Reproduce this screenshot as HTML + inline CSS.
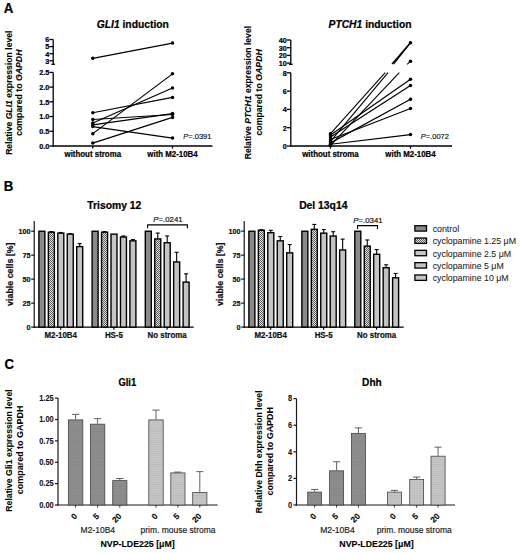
<!DOCTYPE html>
<html><head><meta charset="utf-8"><style>
html,body{margin:0;padding:0;background:#fff;}
body{width:520px;height:553px;overflow:hidden;}
svg{display:block;font-family:"Liberation Sans",sans-serif;}
</style></head><body>
<svg width="520" height="553" viewBox="0 0 520 553">
<defs>
<pattern id="chk" width="2" height="2" patternUnits="userSpaceOnUse">
<rect width="2" height="2" fill="#e4e4e4"/><rect width="1" height="1" fill="#5a5a5a"/><rect x="1" y="1" width="1" height="1" fill="#5a5a5a"/>
</pattern>
<pattern id="hd" width="4" height="2.2" patternUnits="userSpaceOnUse">
<rect width="4" height="2.2" fill="#8e8e8e"/><rect width="4" height="0.6" fill="#848484"/>
</pattern>
<pattern id="hl" width="4" height="2.2" patternUnits="userSpaceOnUse">
<rect width="4" height="2.2" fill="#c6c6c6"/><rect width="4" height="0.6" fill="#b8b8b8"/>
</pattern>
</defs>
<rect width="520" height="553" fill="#fff"/>
<text transform="translate(3.8,12.7) scale(0.93,1)" font-size="14.2" font-weight="bold" text-anchor="start" fill="#000"  stroke="#000" stroke-width="0.22">A</text>
<text x="132.8" y="27.6" font-size="10.3" font-weight="bold" text-anchor="middle" fill="#000"  stroke="#000" stroke-width="0.22"><tspan font-style="italic">GLI1</tspan> induction</text>
<text transform="translate(11.5,92.7) rotate(-90) scale(1.006,1)" x="0" y="0" font-size="8.6" font-weight="bold" text-anchor="middle" fill="#000" stroke="#000" stroke-width="0.08">Relative <tspan font-style="italic">GLI1</tspan> expression level</text>
<text transform="translate(22.4,92.7) rotate(-90) scale(1.016,1)" x="0" y="0" font-size="8.6" font-weight="bold" text-anchor="middle" fill="#000" stroke="#000" stroke-width="0.08">compared to <tspan font-style="italic">GAPDH</tspan></text>
<line x1="53.2" y1="72.4" x2="53.2" y2="146.65" stroke="#000" stroke-width="1.3" />
<line x1="49.4" y1="146" x2="53.2" y2="146" stroke="#000" stroke-width="1.3" />
<text transform="translate(49.3,148.8) scale(0.92,1)" font-size="7.9" font-weight="bold" text-anchor="end" fill="#000"  stroke="#000" stroke-width="0.22">0.0</text>
<line x1="49.4" y1="131.28" x2="53.2" y2="131.28" stroke="#000" stroke-width="1.3" />
<text transform="translate(49.3,134.08) scale(0.92,1)" font-size="7.9" font-weight="bold" text-anchor="end" fill="#000"  stroke="#000" stroke-width="0.22">0.5</text>
<line x1="49.4" y1="116.56" x2="53.2" y2="116.56" stroke="#000" stroke-width="1.3" />
<text transform="translate(49.3,119.36) scale(0.92,1)" font-size="7.9" font-weight="bold" text-anchor="end" fill="#000"  stroke="#000" stroke-width="0.22">1.0</text>
<line x1="49.4" y1="101.84" x2="53.2" y2="101.84" stroke="#000" stroke-width="1.3" />
<text transform="translate(49.3,104.64) scale(0.92,1)" font-size="7.9" font-weight="bold" text-anchor="end" fill="#000"  stroke="#000" stroke-width="0.22">1.5</text>
<line x1="49.4" y1="87.12" x2="53.2" y2="87.12" stroke="#000" stroke-width="1.3" />
<text transform="translate(49.3,89.92) scale(0.92,1)" font-size="7.9" font-weight="bold" text-anchor="end" fill="#000"  stroke="#000" stroke-width="0.22">2.0</text>
<line x1="49.4" y1="72.4" x2="53.2" y2="72.4" stroke="#000" stroke-width="1.3" />
<text transform="translate(49.3,75.2) scale(0.92,1)" font-size="7.9" font-weight="bold" text-anchor="end" fill="#000"  stroke="#000" stroke-width="0.22">2.5</text>
<line x1="53.2" y1="39.5" x2="53.2" y2="64.3" stroke="#000" stroke-width="1.3" />
<line x1="51.4" y1="64.3" x2="55" y2="64.3" stroke="#000" stroke-width="1.3" />
<line x1="49.4" y1="60.8" x2="53.2" y2="60.8" stroke="#000" stroke-width="1.3" />
<text transform="translate(49.3,63.6) scale(0.92,1)" font-size="7.9" font-weight="bold" text-anchor="end" fill="#000"  stroke="#000" stroke-width="0.22">3</text>
<line x1="49.4" y1="53.7" x2="53.2" y2="53.7" stroke="#000" stroke-width="1.3" />
<text transform="translate(49.3,56.5) scale(0.92,1)" font-size="7.9" font-weight="bold" text-anchor="end" fill="#000"  stroke="#000" stroke-width="0.22">4</text>
<line x1="49.4" y1="46.6" x2="53.2" y2="46.6" stroke="#000" stroke-width="1.3" />
<text transform="translate(49.3,49.4) scale(0.92,1)" font-size="7.9" font-weight="bold" text-anchor="end" fill="#000"  stroke="#000" stroke-width="0.22">5</text>
<line x1="49.4" y1="39.5" x2="53.2" y2="39.5" stroke="#000" stroke-width="1.3" />
<text transform="translate(49.3,42.3) scale(0.92,1)" font-size="7.9" font-weight="bold" text-anchor="end" fill="#000"  stroke="#000" stroke-width="0.22">6</text>
<line x1="52.55" y1="146" x2="212.5" y2="146" stroke="#000" stroke-width="1.3" />
<line x1="92.8" y1="146" x2="92.8" y2="148.6" stroke="#000" stroke-width="1.3" />
<line x1="172.5" y1="146" x2="172.5" y2="148.6" stroke="#000" stroke-width="1.3" />
<text transform="translate(92.8,157.2) scale(0.93,1)" font-size="8.5" font-weight="bold" text-anchor="middle" fill="#000"  stroke="#000" stroke-width="0.22">without stroma</text>
<text transform="translate(172.5,157.2) scale(0.93,1)" font-size="8.5" font-weight="bold" text-anchor="middle" fill="#000"  stroke="#000" stroke-width="0.22">with M2-10B4</text>
<text transform="translate(211.4,138.9) scale(0.95,1)" font-size="7.9" font-weight="normal" text-anchor="end" fill="#111"  stroke="#111" stroke-width="0.18"><tspan font-style="italic">P</tspan>=.0391</text>
<line x1="92.8" y1="58.31" x2="172.5" y2="43.05" stroke="#000" stroke-width="1.2" />
<line x1="92.8" y1="112.73" x2="172.5" y2="97.42" stroke="#000" stroke-width="1.2" />
<line x1="92.8" y1="119.5" x2="172.5" y2="114.5" stroke="#000" stroke-width="1.2" />
<line x1="92.8" y1="123.04" x2="172.5" y2="88" stroke="#000" stroke-width="1.2" />
<line x1="92.8" y1="124.8" x2="172.5" y2="113.62" stroke="#000" stroke-width="1.2" />
<line x1="92.8" y1="126.57" x2="172.5" y2="138.05" stroke="#000" stroke-width="1.2" />
<line x1="92.8" y1="133.64" x2="172.5" y2="73.87" stroke="#000" stroke-width="1.2" />
<line x1="92.8" y1="143.06" x2="172.5" y2="117.44" stroke="#000" stroke-width="1.2" />
<circle cx="92.8" cy="58.31" r="1.75" fill="#000"/>
<circle cx="172.5" cy="43.05" r="1.75" fill="#000"/>
<circle cx="92.8" cy="112.73" r="1.75" fill="#000"/>
<circle cx="172.5" cy="97.42" r="1.75" fill="#000"/>
<circle cx="92.8" cy="119.5" r="1.75" fill="#000"/>
<circle cx="172.5" cy="114.5" r="1.75" fill="#000"/>
<circle cx="92.8" cy="123.04" r="1.75" fill="#000"/>
<circle cx="172.5" cy="88" r="1.75" fill="#000"/>
<circle cx="92.8" cy="124.8" r="1.75" fill="#000"/>
<circle cx="172.5" cy="113.62" r="1.75" fill="#000"/>
<circle cx="92.8" cy="126.57" r="1.75" fill="#000"/>
<circle cx="172.5" cy="138.05" r="1.75" fill="#000"/>
<circle cx="92.8" cy="133.64" r="1.75" fill="#000"/>
<circle cx="172.5" cy="73.87" r="1.75" fill="#000"/>
<circle cx="92.8" cy="143.06" r="1.75" fill="#000"/>
<circle cx="172.5" cy="117.44" r="1.75" fill="#000"/>
<text x="370" y="27.7" font-size="10.3" font-weight="bold" text-anchor="middle" fill="#000"  stroke="#000" stroke-width="0.22"><tspan font-style="italic">PTCH1</tspan> induction</text>
<text transform="translate(251,92.6) rotate(-90) scale(1.006,1)" x="0" y="0" font-size="8.6" font-weight="bold" text-anchor="middle" fill="#000" stroke="#000" stroke-width="0.08">Relative <tspan font-style="italic">PTCH1</tspan> expression level</text>
<text transform="translate(261.9,92.4) rotate(-90) scale(1.016,1)" x="0" y="0" font-size="8.6" font-weight="bold" text-anchor="middle" fill="#000" stroke="#000" stroke-width="0.08">compared to <tspan font-style="italic">GAPDH</tspan></text>
<line x1="290.8" y1="72.8" x2="290.8" y2="146.65" stroke="#000" stroke-width="1.3" />
<line x1="287" y1="146" x2="290.8" y2="146" stroke="#000" stroke-width="1.3" />
<text transform="translate(286.9,148.8) scale(0.92,1)" font-size="7.9" font-weight="bold" text-anchor="end" fill="#000"  stroke="#000" stroke-width="0.22">0</text>
<line x1="287" y1="127.7" x2="290.8" y2="127.7" stroke="#000" stroke-width="1.3" />
<text transform="translate(286.9,130.5) scale(0.92,1)" font-size="7.9" font-weight="bold" text-anchor="end" fill="#000"  stroke="#000" stroke-width="0.22">2</text>
<line x1="287" y1="109.4" x2="290.8" y2="109.4" stroke="#000" stroke-width="1.3" />
<text transform="translate(286.9,112.2) scale(0.92,1)" font-size="7.9" font-weight="bold" text-anchor="end" fill="#000"  stroke="#000" stroke-width="0.22">4</text>
<line x1="287" y1="91.1" x2="290.8" y2="91.1" stroke="#000" stroke-width="1.3" />
<text transform="translate(286.9,93.9) scale(0.92,1)" font-size="7.9" font-weight="bold" text-anchor="end" fill="#000"  stroke="#000" stroke-width="0.22">6</text>
<line x1="287" y1="72.8" x2="290.8" y2="72.8" stroke="#000" stroke-width="1.3" />
<text transform="translate(286.9,75.6) scale(0.92,1)" font-size="7.9" font-weight="bold" text-anchor="end" fill="#000"  stroke="#000" stroke-width="0.22">8</text>
<line x1="290.8" y1="40" x2="290.8" y2="64.3" stroke="#000" stroke-width="1.3" />
<line x1="289" y1="64.3" x2="292.6" y2="64.3" stroke="#000" stroke-width="1.3" />
<line x1="287" y1="63.1" x2="290.8" y2="63.1" stroke="#000" stroke-width="1.3" />
<text transform="translate(286.9,65.9) scale(0.92,1)" font-size="7.9" font-weight="bold" text-anchor="end" fill="#000"  stroke="#000" stroke-width="0.22">10</text>
<line x1="287" y1="55.4" x2="290.8" y2="55.4" stroke="#000" stroke-width="1.3" />
<text transform="translate(286.9,58.2) scale(0.92,1)" font-size="7.9" font-weight="bold" text-anchor="end" fill="#000"  stroke="#000" stroke-width="0.22">20</text>
<line x1="287" y1="47.7" x2="290.8" y2="47.7" stroke="#000" stroke-width="1.3" />
<text transform="translate(286.9,50.5) scale(0.92,1)" font-size="7.9" font-weight="bold" text-anchor="end" fill="#000"  stroke="#000" stroke-width="0.22">30</text>
<line x1="287" y1="40" x2="290.8" y2="40" stroke="#000" stroke-width="1.3" />
<text transform="translate(286.9,42.8) scale(0.92,1)" font-size="7.9" font-weight="bold" text-anchor="end" fill="#000"  stroke="#000" stroke-width="0.22">40</text>
<line x1="290.15" y1="146" x2="452" y2="146" stroke="#000" stroke-width="1.3" />
<line x1="330.5" y1="146" x2="330.5" y2="148.6" stroke="#000" stroke-width="1.3" />
<line x1="410.5" y1="146" x2="410.5" y2="148.6" stroke="#000" stroke-width="1.3" />
<text transform="translate(330.5,157.2) scale(0.93,1)" font-size="8.5" font-weight="bold" text-anchor="middle" fill="#000"  stroke="#000" stroke-width="0.22">without stroma</text>
<text transform="translate(410.5,157.2) scale(0.93,1)" font-size="8.5" font-weight="bold" text-anchor="middle" fill="#000"  stroke="#000" stroke-width="0.22">with M2-10B4</text>
<text transform="translate(448.9,139.4) scale(0.95,1)" font-size="7.9" font-weight="normal" text-anchor="end" fill="#111"  stroke="#111" stroke-width="0.18"><tspan font-style="italic">P</tspan>=.0072</text>
<line x1="330.5" y1="135.02" x2="410.5" y2="79.2" stroke="#000" stroke-width="1.2" />
<line x1="330.5" y1="137.12" x2="410.5" y2="85.61" stroke="#000" stroke-width="1.2" />
<line x1="330.5" y1="142.89" x2="410.5" y2="99.34" stroke="#000" stroke-width="1.2" />
<line x1="330.5" y1="139.5" x2="410.5" y2="108.48" stroke="#000" stroke-width="1.2" />
<line x1="330.5" y1="144.26" x2="410.5" y2="134.56" stroke="#000" stroke-width="1.2" />
<line x1="330.5" y1="133.65" x2="385.2" y2="72.6" stroke="#000" stroke-width="1.1" />
<line x1="330.5" y1="141.43" x2="388" y2="72.6" stroke="#000" stroke-width="1.1" />
<line x1="330.5" y1="145.27" x2="399.3" y2="72.6" stroke="#000" stroke-width="1.1" />
<line x1="392" y1="64" x2="410.5" y2="42.7" stroke="#000" stroke-width="1.3" />
<line x1="393.6" y1="64.2" x2="410.5" y2="42.7" stroke="#000" stroke-width="1.2" />
<line x1="407.2" y1="64.3" x2="410.5" y2="61.2" stroke="#000" stroke-width="1.1" />
<circle cx="330.5" cy="135.02" r="1.75" fill="#000"/>
<circle cx="410.5" cy="79.2" r="1.75" fill="#000"/>
<circle cx="330.5" cy="137.12" r="1.75" fill="#000"/>
<circle cx="410.5" cy="85.61" r="1.75" fill="#000"/>
<circle cx="330.5" cy="142.89" r="1.75" fill="#000"/>
<circle cx="410.5" cy="99.34" r="1.75" fill="#000"/>
<circle cx="330.5" cy="139.5" r="1.75" fill="#000"/>
<circle cx="410.5" cy="108.48" r="1.75" fill="#000"/>
<circle cx="330.5" cy="144.26" r="1.75" fill="#000"/>
<circle cx="410.5" cy="134.56" r="1.75" fill="#000"/>
<circle cx="330.5" cy="133.65" r="1.75" fill="#000"/>
<circle cx="330.5" cy="141.43" r="1.75" fill="#000"/>
<circle cx="330.5" cy="145.27" r="1.75" fill="#000"/>
<circle cx="410.5" cy="42.7" r="1.75" fill="#000"/>
<circle cx="410.5" cy="61.2" r="1.75" fill="#000"/>
<text transform="translate(3.8,190.6) scale(0.93,1)" font-size="14.2" font-weight="bold" text-anchor="start" fill="#000"  stroke="#000" stroke-width="0.22">B</text>
<text x="114.3" y="208.8" font-size="10.35" font-weight="bold" text-anchor="middle" fill="#000"  stroke="#000" stroke-width="0.22">Trisomy 12</text>
<text transform="translate(13.3,274.2) rotate(-90) scale(1.0,1)" x="0" y="0" font-size="8.85" font-weight="bold" text-anchor="middle" fill="#111" stroke="#111" stroke-width="0.22">viable cells [%]</text>
<line x1="34.2" y1="221" x2="34.2" y2="327.7" stroke="#000" stroke-width="1.1" />
<line x1="31.2" y1="327.1" x2="34.2" y2="327.1" stroke="#000" stroke-width="1.1" />
<text transform="translate(30.6,329.9) scale(0.92,1)" font-size="7.9" font-weight="bold" text-anchor="end" fill="#111"  stroke="#111" stroke-width="0.22">0</text>
<line x1="31.2" y1="303.11" x2="34.2" y2="303.11" stroke="#000" stroke-width="1.1" />
<text transform="translate(30.6,305.91) scale(0.92,1)" font-size="7.9" font-weight="bold" text-anchor="end" fill="#111"  stroke="#111" stroke-width="0.22">25</text>
<line x1="31.2" y1="279.12" x2="34.2" y2="279.12" stroke="#000" stroke-width="1.1" />
<text transform="translate(30.6,281.93) scale(0.92,1)" font-size="7.9" font-weight="bold" text-anchor="end" fill="#111"  stroke="#111" stroke-width="0.22">50</text>
<line x1="31.2" y1="255.14" x2="34.2" y2="255.14" stroke="#000" stroke-width="1.1" />
<text transform="translate(30.6,257.94) scale(0.92,1)" font-size="7.9" font-weight="bold" text-anchor="end" fill="#111"  stroke="#111" stroke-width="0.22">75</text>
<line x1="31.2" y1="231.15" x2="34.2" y2="231.15" stroke="#000" stroke-width="1.1" />
<text transform="translate(30.6,233.95) scale(0.92,1)" font-size="7.9" font-weight="bold" text-anchor="end" fill="#111"  stroke="#111" stroke-width="0.22">100</text>
<line x1="33.7" y1="327.1" x2="193.7" y2="327.1" stroke="#000" stroke-width="1.1" />
<line x1="60.7" y1="327.1" x2="60.7" y2="329.7" stroke="#000" stroke-width="1.1" />
<text transform="translate(60.7,337.6) scale(0.93,1)" font-size="8.5" font-weight="bold" text-anchor="middle" fill="#111"  stroke="#111" stroke-width="0.22">M2-10B4</text>
<rect x="38.9" y="231.25" width="6" height="95.85" fill="#8a8a8a" stroke="#000" stroke-width="1.4"/>
<line x1="51.35" y1="232.11" x2="51.35" y2="231.63" stroke="#000" stroke-width="1.1" />
<line x1="49.35" y1="231.63" x2="53.35" y2="231.63" stroke="#000" stroke-width="1.1" />
<rect x="48.35" y="232.21" width="6" height="94.89" fill="url(#chk)" stroke="#000" stroke-width="1.4"/>
<line x1="60.8" y1="233.07" x2="60.8" y2="232.49" stroke="#000" stroke-width="1.1" />
<line x1="58.8" y1="232.49" x2="62.8" y2="232.49" stroke="#000" stroke-width="1.1" />
<rect x="57.8" y="233.17" width="6" height="93.93" fill="#c6c6c6" stroke="#000" stroke-width="1.4"/>
<line x1="70.25" y1="234.03" x2="70.25" y2="233.74" stroke="#000" stroke-width="1.1" />
<line x1="68.25" y1="233.74" x2="72.25" y2="233.74" stroke="#000" stroke-width="1.1" />
<rect x="67.25" y="234.13" width="6" height="92.97" fill="#c2c2c2" stroke="#000" stroke-width="1.4"/>
<line x1="79.7" y1="246.5" x2="79.7" y2="243.62" stroke="#000" stroke-width="1.1" />
<line x1="77.7" y1="243.62" x2="81.7" y2="243.62" stroke="#000" stroke-width="1.1" />
<rect x="76.7" y="246.6" width="6" height="80.5" fill="#c4c4c4" stroke="#000" stroke-width="1.4"/>
<line x1="113.9" y1="327.1" x2="113.9" y2="329.7" stroke="#000" stroke-width="1.1" />
<text transform="translate(113.9,337.6) scale(0.93,1)" font-size="8.5" font-weight="bold" text-anchor="middle" fill="#111"  stroke="#111" stroke-width="0.22">HS-5</text>
<rect x="92.1" y="231.25" width="6" height="95.85" fill="#8a8a8a" stroke="#000" stroke-width="1.4"/>
<line x1="104.55" y1="232.11" x2="104.55" y2="231.63" stroke="#000" stroke-width="1.1" />
<line x1="102.55" y1="231.63" x2="106.55" y2="231.63" stroke="#000" stroke-width="1.1" />
<rect x="101.55" y="232.21" width="6" height="94.89" fill="url(#chk)" stroke="#000" stroke-width="1.4"/>
<rect x="111" y="234.13" width="6" height="92.97" fill="#c6c6c6" stroke="#000" stroke-width="1.4"/>
<line x1="123.45" y1="236.91" x2="123.45" y2="235.95" stroke="#000" stroke-width="1.1" />
<line x1="121.45" y1="235.95" x2="125.45" y2="235.95" stroke="#000" stroke-width="1.1" />
<rect x="120.45" y="237.01" width="6" height="90.09" fill="#c2c2c2" stroke="#000" stroke-width="1.4"/>
<line x1="132.9" y1="240.75" x2="132.9" y2="239.59" stroke="#000" stroke-width="1.1" />
<line x1="130.9" y1="239.59" x2="134.9" y2="239.59" stroke="#000" stroke-width="1.1" />
<rect x="129.9" y="240.84" width="6" height="86.26" fill="#c4c4c4" stroke="#000" stroke-width="1.4"/>
<line x1="167.1" y1="327.1" x2="167.1" y2="329.7" stroke="#000" stroke-width="1.1" />
<text transform="translate(167.1,337.6) scale(0.93,1)" font-size="8.5" font-weight="bold" text-anchor="middle" fill="#111"  stroke="#111" stroke-width="0.22">No stroma</text>
<rect x="145.3" y="231.25" width="6" height="95.85" fill="#8a8a8a" stroke="#000" stroke-width="1.4"/>
<line x1="157.75" y1="238.83" x2="157.75" y2="233.07" stroke="#000" stroke-width="1.1" />
<line x1="155.75" y1="233.07" x2="159.75" y2="233.07" stroke="#000" stroke-width="1.1" />
<rect x="154.75" y="238.93" width="6" height="88.17" fill="url(#chk)" stroke="#000" stroke-width="1.4"/>
<line x1="167.2" y1="242.66" x2="167.2" y2="235.95" stroke="#000" stroke-width="1.1" />
<line x1="165.2" y1="235.95" x2="169.2" y2="235.95" stroke="#000" stroke-width="1.1" />
<rect x="164.2" y="242.76" width="6" height="84.34" fill="#c6c6c6" stroke="#000" stroke-width="1.4"/>
<line x1="176.65" y1="261.85" x2="176.65" y2="252.26" stroke="#000" stroke-width="1.1" />
<line x1="174.65" y1="252.26" x2="178.65" y2="252.26" stroke="#000" stroke-width="1.1" />
<rect x="173.65" y="261.95" width="6" height="65.15" fill="#c2c2c2" stroke="#000" stroke-width="1.4"/>
<line x1="186.1" y1="282" x2="186.1" y2="273.85" stroke="#000" stroke-width="1.1" />
<line x1="184.1" y1="273.85" x2="188.1" y2="273.85" stroke="#000" stroke-width="1.1" />
<rect x="183.1" y="282.1" width="6" height="45" fill="#c4c4c4" stroke="#000" stroke-width="1.4"/>
<path d="M147.6,228.3 V224.9 H187.4 V228.3" fill="none" stroke="#000" stroke-width="1.1"/>
<text x="168" y="222.4" font-size="7.8" font-weight="normal" text-anchor="middle" fill="#111"  stroke="#111" stroke-width="0.18"><tspan font-style="italic">P</tspan>=.0241</text>
<text x="323.3" y="208.8" font-size="10.35" font-weight="bold" text-anchor="middle" fill="#000"  stroke="#000" stroke-width="0.22">Del 13q14</text>
<text transform="translate(223.3,274.2) rotate(-90) scale(1.0,1)" x="0" y="0" font-size="8.85" font-weight="bold" text-anchor="middle" fill="#111" stroke="#111" stroke-width="0.22">viable cells [%]</text>
<line x1="244.2" y1="221" x2="244.2" y2="327.7" stroke="#000" stroke-width="1.1" />
<line x1="241.2" y1="327.1" x2="244.2" y2="327.1" stroke="#000" stroke-width="1.1" />
<text transform="translate(240.6,329.9) scale(0.92,1)" font-size="7.9" font-weight="bold" text-anchor="end" fill="#111"  stroke="#111" stroke-width="0.22">0</text>
<line x1="241.2" y1="303.11" x2="244.2" y2="303.11" stroke="#000" stroke-width="1.1" />
<text transform="translate(240.6,305.91) scale(0.92,1)" font-size="7.9" font-weight="bold" text-anchor="end" fill="#111"  stroke="#111" stroke-width="0.22">25</text>
<line x1="241.2" y1="279.12" x2="244.2" y2="279.12" stroke="#000" stroke-width="1.1" />
<text transform="translate(240.6,281.93) scale(0.92,1)" font-size="7.9" font-weight="bold" text-anchor="end" fill="#111"  stroke="#111" stroke-width="0.22">50</text>
<line x1="241.2" y1="255.14" x2="244.2" y2="255.14" stroke="#000" stroke-width="1.1" />
<text transform="translate(240.6,257.94) scale(0.92,1)" font-size="7.9" font-weight="bold" text-anchor="end" fill="#111"  stroke="#111" stroke-width="0.22">75</text>
<line x1="241.2" y1="231.15" x2="244.2" y2="231.15" stroke="#000" stroke-width="1.1" />
<text transform="translate(240.6,233.95) scale(0.92,1)" font-size="7.9" font-weight="bold" text-anchor="end" fill="#111"  stroke="#111" stroke-width="0.22">100</text>
<line x1="243.7" y1="327.1" x2="403.7" y2="327.1" stroke="#000" stroke-width="1.1" />
<line x1="270.7" y1="327.1" x2="270.7" y2="329.7" stroke="#000" stroke-width="1.1" />
<text transform="translate(270.7,337.6) scale(0.93,1)" font-size="8.5" font-weight="bold" text-anchor="middle" fill="#111"  stroke="#111" stroke-width="0.22">M2-10B4</text>
<rect x="248.9" y="231.25" width="6" height="95.85" fill="#8a8a8a" stroke="#000" stroke-width="1.4"/>
<line x1="261.35" y1="230.19" x2="261.35" y2="229.71" stroke="#000" stroke-width="1.1" />
<line x1="259.35" y1="229.71" x2="263.35" y2="229.71" stroke="#000" stroke-width="1.1" />
<rect x="258.35" y="230.29" width="6" height="96.81" fill="url(#chk)" stroke="#000" stroke-width="1.4"/>
<line x1="270.8" y1="232.59" x2="270.8" y2="230.29" stroke="#000" stroke-width="1.1" />
<line x1="268.8" y1="230.29" x2="272.8" y2="230.29" stroke="#000" stroke-width="1.1" />
<rect x="267.8" y="232.69" width="6" height="94.41" fill="#c6c6c6" stroke="#000" stroke-width="1.4"/>
<line x1="280.25" y1="240.75" x2="280.25" y2="236.52" stroke="#000" stroke-width="1.1" />
<line x1="278.25" y1="236.52" x2="282.25" y2="236.52" stroke="#000" stroke-width="1.1" />
<rect x="277.25" y="240.84" width="6" height="86.26" fill="#c2c2c2" stroke="#000" stroke-width="1.4"/>
<line x1="289.7" y1="252.74" x2="289.7" y2="244.58" stroke="#000" stroke-width="1.1" />
<line x1="287.7" y1="244.58" x2="291.7" y2="244.58" stroke="#000" stroke-width="1.1" />
<rect x="286.7" y="252.84" width="6" height="74.26" fill="#c4c4c4" stroke="#000" stroke-width="1.4"/>
<line x1="323.65" y1="327.1" x2="323.65" y2="329.7" stroke="#000" stroke-width="1.1" />
<text transform="translate(323.65,337.6) scale(0.93,1)" font-size="8.5" font-weight="bold" text-anchor="middle" fill="#111"  stroke="#111" stroke-width="0.22">HS-5</text>
<rect x="301.85" y="231.25" width="6" height="95.85" fill="#8a8a8a" stroke="#000" stroke-width="1.4"/>
<line x1="314.3" y1="229.23" x2="314.3" y2="224.43" stroke="#000" stroke-width="1.1" />
<line x1="312.3" y1="224.43" x2="316.3" y2="224.43" stroke="#000" stroke-width="1.1" />
<rect x="311.3" y="229.33" width="6" height="97.77" fill="url(#chk)" stroke="#000" stroke-width="1.4"/>
<line x1="323.75" y1="233.07" x2="323.75" y2="229.52" stroke="#000" stroke-width="1.1" />
<line x1="321.75" y1="229.52" x2="325.75" y2="229.52" stroke="#000" stroke-width="1.1" />
<rect x="320.75" y="233.17" width="6" height="93.93" fill="#c6c6c6" stroke="#000" stroke-width="1.4"/>
<line x1="333.2" y1="235.95" x2="333.2" y2="231.73" stroke="#000" stroke-width="1.1" />
<line x1="331.2" y1="231.73" x2="335.2" y2="231.73" stroke="#000" stroke-width="1.1" />
<rect x="330.2" y="236.05" width="6" height="91.05" fill="#c2c2c2" stroke="#000" stroke-width="1.4"/>
<line x1="342.65" y1="249.86" x2="342.65" y2="239.11" stroke="#000" stroke-width="1.1" />
<line x1="340.65" y1="239.11" x2="344.65" y2="239.11" stroke="#000" stroke-width="1.1" />
<rect x="339.65" y="249.96" width="6" height="77.14" fill="#c4c4c4" stroke="#000" stroke-width="1.4"/>
<line x1="376.6" y1="327.1" x2="376.6" y2="329.7" stroke="#000" stroke-width="1.1" />
<text transform="translate(376.6,337.6) scale(0.93,1)" font-size="8.5" font-weight="bold" text-anchor="middle" fill="#111"  stroke="#111" stroke-width="0.22">No stroma</text>
<rect x="354.8" y="231.25" width="6" height="95.85" fill="#8a8a8a" stroke="#000" stroke-width="1.4"/>
<line x1="367.25" y1="246.02" x2="367.25" y2="239.98" stroke="#000" stroke-width="1.1" />
<line x1="365.25" y1="239.98" x2="369.25" y2="239.98" stroke="#000" stroke-width="1.1" />
<rect x="364.25" y="246.12" width="6" height="80.98" fill="url(#chk)" stroke="#000" stroke-width="1.4"/>
<line x1="376.7" y1="254.18" x2="376.7" y2="249.57" stroke="#000" stroke-width="1.1" />
<line x1="374.7" y1="249.57" x2="378.7" y2="249.57" stroke="#000" stroke-width="1.1" />
<rect x="373.7" y="254.28" width="6" height="72.82" fill="#c6c6c6" stroke="#000" stroke-width="1.4"/>
<line x1="386.15" y1="267.61" x2="386.15" y2="264.83" stroke="#000" stroke-width="1.1" />
<line x1="384.15" y1="264.83" x2="388.15" y2="264.83" stroke="#000" stroke-width="1.1" />
<rect x="383.15" y="267.71" width="6" height="59.39" fill="#c2c2c2" stroke="#000" stroke-width="1.4"/>
<line x1="395.6" y1="277.69" x2="395.6" y2="273.46" stroke="#000" stroke-width="1.1" />
<line x1="393.6" y1="273.46" x2="397.6" y2="273.46" stroke="#000" stroke-width="1.1" />
<rect x="392.6" y="277.79" width="6" height="49.31" fill="#c4c4c4" stroke="#000" stroke-width="1.4"/>
<path d="M357.6,229 V225.6 H377.5 V229" fill="none" stroke="#000" stroke-width="1.1"/>
<text x="368" y="223" font-size="7.8" font-weight="normal" text-anchor="middle" fill="#111"  stroke="#111" stroke-width="0.18"><tspan font-style="italic">P</tspan>=.0341</text>
<rect x="414.9" y="225.7" width="11.6" height="5.4" fill="#8a8a8a" stroke="#000" stroke-width="1.3"/>
<text x="432.7" y="232" font-size="8.8" font-weight="normal" text-anchor="start" fill="#222" style="stroke-width:0.06" stroke="#222" stroke-width="0.18">control</text>
<rect x="414.9" y="238.02" width="11.6" height="5.4" fill="url(#chk)" stroke="#000" stroke-width="1.3"/>
<text x="432.7" y="244.32" font-size="8.8" font-weight="normal" text-anchor="start" fill="#222" style="stroke-width:0.06" stroke="#222" stroke-width="0.18">cyclopamine 1.25 μM</text>
<rect x="414.9" y="250.34" width="11.6" height="5.4" fill="#c6c6c6" stroke="#000" stroke-width="1.3"/>
<text x="432.7" y="256.64" font-size="8.8" font-weight="normal" text-anchor="start" fill="#222" style="stroke-width:0.06" stroke="#222" stroke-width="0.18">cyclopamine 2.5 μM</text>
<rect x="414.9" y="262.66" width="11.6" height="5.4" fill="#c2c2c2" stroke="#000" stroke-width="1.3"/>
<text x="432.7" y="268.96" font-size="8.8" font-weight="normal" text-anchor="start" fill="#222" style="stroke-width:0.06" stroke="#222" stroke-width="0.18">cyclopamine 5 μM</text>
<rect x="414.9" y="274.98" width="11.6" height="5.4" fill="#c4c4c4" stroke="#000" stroke-width="1.3"/>
<text x="432.7" y="281.28" font-size="8.8" font-weight="normal" text-anchor="start" fill="#222" style="stroke-width:0.06" stroke="#222" stroke-width="0.18">cyclopamine 10 μM</text>
<text transform="translate(4.6,369.1) scale(0.93,1)" font-size="14.2" font-weight="bold" text-anchor="start" fill="#000"  stroke="#000" stroke-width="0.22">C</text>
<text transform="translate(127.3,386.2) scale(0.9,1)" font-size="10.5" font-weight="bold" text-anchor="middle" fill="#000"  stroke="#000" stroke-width="0.22">Gli1</text>
<text transform="translate(11.9,450.5) rotate(-90) scale(1.025,1)" x="0" y="0" font-size="8.5" font-weight="bold" text-anchor="middle" fill="#000" stroke="#000" stroke-width="0.05">Relative Gli1 expression level</text>
<text transform="translate(22.6,449.9) rotate(-90) scale(1.055,1)" x="0" y="0" font-size="8.5" font-weight="bold" text-anchor="middle" fill="#000" stroke="#000" stroke-width="0.05">compared to GAPDH</text>
<line x1="58" y1="398.12" x2="58" y2="505.6" stroke="#1a1a1a" stroke-width="1.2" />
<line x1="55" y1="505" x2="58" y2="505" stroke="#1a1a1a" stroke-width="1.2" />
<text transform="translate(53.7,507.7) scale(0.88,1)" font-size="8.5" font-weight="bold" text-anchor="end" fill="#111"  stroke="#111" stroke-width="0.08">0.00</text>
<line x1="55" y1="483.62" x2="58" y2="483.62" stroke="#1a1a1a" stroke-width="1.2" />
<text transform="translate(53.7,486.32) scale(0.88,1)" font-size="8.5" font-weight="bold" text-anchor="end" fill="#111"  stroke="#111" stroke-width="0.08">0.25</text>
<line x1="55" y1="462.25" x2="58" y2="462.25" stroke="#1a1a1a" stroke-width="1.2" />
<text transform="translate(53.7,464.95) scale(0.88,1)" font-size="8.5" font-weight="bold" text-anchor="end" fill="#111"  stroke="#111" stroke-width="0.08">0.50</text>
<line x1="55" y1="440.88" x2="58" y2="440.88" stroke="#1a1a1a" stroke-width="1.2" />
<text transform="translate(53.7,443.57) scale(0.88,1)" font-size="8.5" font-weight="bold" text-anchor="end" fill="#111"  stroke="#111" stroke-width="0.08">0.75</text>
<line x1="55" y1="419.5" x2="58" y2="419.5" stroke="#1a1a1a" stroke-width="1.2" />
<text transform="translate(53.7,422.2) scale(0.88,1)" font-size="8.5" font-weight="bold" text-anchor="end" fill="#111"  stroke="#111" stroke-width="0.08">1.00</text>
<line x1="55" y1="398.12" x2="58" y2="398.12" stroke="#1a1a1a" stroke-width="1.2" />
<text transform="translate(53.7,400.82) scale(0.88,1)" font-size="8.5" font-weight="bold" text-anchor="end" fill="#111"  stroke="#111" stroke-width="0.08">1.25</text>
<line x1="57.4" y1="505" x2="217.7" y2="505" stroke="#1a1a1a" stroke-width="1.2" />
<line x1="75.6" y1="419.5" x2="75.6" y2="414.37" stroke="#444" stroke-width="0.85" />
<line x1="72" y1="414.37" x2="79.2" y2="414.37" stroke="#444" stroke-width="0.85" />
<rect x="68.4" y="419.9" width="14.4" height="85.1" fill="url(#hd)" stroke="#444" stroke-width="0.8"/>
<line x1="75.6" y1="505" x2="75.6" y2="507.6" stroke="#222" stroke-width="0.9" />
<text transform="translate(77.8,516.8) rotate(-45)" font-size="8.3" font-weight="bold" text-anchor="end" fill="#111" stroke="#111" stroke-width="0.2">0</text>
<line x1="97.6" y1="423.77" x2="97.6" y2="418.64" stroke="#444" stroke-width="0.85" />
<line x1="94" y1="418.64" x2="101.2" y2="418.64" stroke="#444" stroke-width="0.85" />
<rect x="90.4" y="424.17" width="14.4" height="80.83" fill="url(#hd)" stroke="#444" stroke-width="0.8"/>
<line x1="97.6" y1="505" x2="97.6" y2="507.6" stroke="#222" stroke-width="0.9" />
<text transform="translate(99.8,516.8) rotate(-45)" font-size="8.3" font-weight="bold" text-anchor="end" fill="#111" stroke="#111" stroke-width="0.2">5</text>
<line x1="119.8" y1="480.2" x2="119.8" y2="478.5" stroke="#444" stroke-width="0.85" />
<line x1="116.2" y1="478.5" x2="123.4" y2="478.5" stroke="#444" stroke-width="0.85" />
<rect x="112.7" y="480.6" width="14.2" height="24.4" fill="url(#hd)" stroke="#444" stroke-width="0.8"/>
<line x1="119.8" y1="505" x2="119.8" y2="507.6" stroke="#222" stroke-width="0.9" />
<text transform="translate(122,516.8) rotate(-45)" font-size="8.3" font-weight="bold" text-anchor="end" fill="#111" stroke="#111" stroke-width="0.2">20</text>
<line x1="156" y1="419.5" x2="156" y2="410.09" stroke="#444" stroke-width="0.85" />
<line x1="152.4" y1="410.09" x2="159.6" y2="410.09" stroke="#444" stroke-width="0.85" />
<rect x="148.8" y="419.9" width="14.4" height="85.1" fill="url(#hl)" stroke="#444" stroke-width="0.8"/>
<line x1="156" y1="505" x2="156" y2="507.6" stroke="#222" stroke-width="0.9" />
<text transform="translate(158.2,516.8) rotate(-45)" font-size="8.3" font-weight="bold" text-anchor="end" fill="#111" stroke="#111" stroke-width="0.2">0</text>
<line x1="177.9" y1="472.51" x2="177.9" y2="472.08" stroke="#444" stroke-width="0.85" />
<line x1="174.3" y1="472.08" x2="181.5" y2="472.08" stroke="#444" stroke-width="0.85" />
<rect x="170.8" y="472.91" width="14.2" height="32.09" fill="url(#hl)" stroke="#444" stroke-width="0.8"/>
<line x1="177.9" y1="505" x2="177.9" y2="507.6" stroke="#222" stroke-width="0.9" />
<text transform="translate(180.1,516.8) rotate(-45)" font-size="8.3" font-weight="bold" text-anchor="end" fill="#111" stroke="#111" stroke-width="0.2">5</text>
<line x1="199.8" y1="492.18" x2="199.8" y2="471.65" stroke="#444" stroke-width="0.85" />
<line x1="196.2" y1="471.65" x2="203.4" y2="471.65" stroke="#444" stroke-width="0.85" />
<rect x="192.7" y="492.57" width="14.2" height="12.42" fill="url(#hl)" stroke="#444" stroke-width="0.8"/>
<line x1="199.8" y1="505" x2="199.8" y2="507.6" stroke="#222" stroke-width="0.9" />
<text transform="translate(202,516.8) rotate(-45)" font-size="8.3" font-weight="bold" text-anchor="end" fill="#111" stroke="#111" stroke-width="0.2">20</text>
<text x="97.8" y="533" font-size="8.5" font-weight="normal" text-anchor="middle" fill="#222"  stroke="#222" stroke-width="0.18">M2-10B4</text>
<text x="178" y="533" font-size="8.5" font-weight="normal" text-anchor="middle" fill="#222"  stroke="#222" stroke-width="0.18">prim. mouse stroma</text>
<text x="137.6" y="546.8" font-size="8.8" font-weight="bold" text-anchor="middle" fill="#000"  stroke="#000" stroke-width="0.12">NVP-LDE225 [μM]</text>
<text transform="translate(371.9,386.2) scale(0.96,1)" font-size="10.5" font-weight="bold" text-anchor="middle" fill="#000"  stroke="#000" stroke-width="0.22">Dhh</text>
<text transform="translate(262.2,451.85) rotate(-90) scale(1.025,1)" x="0" y="0" font-size="8.5" font-weight="bold" text-anchor="middle" fill="#000" stroke="#000" stroke-width="0.05">Relative Dhh expression level</text>
<text transform="translate(273.1,451.25) rotate(-90) scale(1.055,1)" x="0" y="0" font-size="8.5" font-weight="bold" text-anchor="middle" fill="#000" stroke="#000" stroke-width="0.05">compared to GAPDH</text>
<line x1="296.5" y1="398.6" x2="296.5" y2="505.6" stroke="#1a1a1a" stroke-width="1.2" />
<line x1="293.5" y1="505" x2="296.5" y2="505" stroke="#1a1a1a" stroke-width="1.2" />
<text transform="translate(292.2,507.7) scale(0.88,1)" font-size="8.5" font-weight="bold" text-anchor="end" fill="#111"  stroke="#111" stroke-width="0.08">0</text>
<line x1="293.5" y1="478.4" x2="296.5" y2="478.4" stroke="#1a1a1a" stroke-width="1.2" />
<text transform="translate(292.2,481.1) scale(0.88,1)" font-size="8.5" font-weight="bold" text-anchor="end" fill="#111"  stroke="#111" stroke-width="0.08">2</text>
<line x1="293.5" y1="451.8" x2="296.5" y2="451.8" stroke="#1a1a1a" stroke-width="1.2" />
<text transform="translate(292.2,454.5) scale(0.88,1)" font-size="8.5" font-weight="bold" text-anchor="end" fill="#111"  stroke="#111" stroke-width="0.08">4</text>
<line x1="293.5" y1="425.2" x2="296.5" y2="425.2" stroke="#1a1a1a" stroke-width="1.2" />
<text transform="translate(292.2,427.9) scale(0.88,1)" font-size="8.5" font-weight="bold" text-anchor="end" fill="#111"  stroke="#111" stroke-width="0.08">6</text>
<line x1="293.5" y1="398.6" x2="296.5" y2="398.6" stroke="#1a1a1a" stroke-width="1.2" />
<text transform="translate(292.2,401.3) scale(0.88,1)" font-size="8.5" font-weight="bold" text-anchor="end" fill="#111"  stroke="#111" stroke-width="0.08">8</text>
<line x1="295.9" y1="505" x2="455" y2="505" stroke="#1a1a1a" stroke-width="1.2" />
<line x1="314.65" y1="491.7" x2="314.65" y2="489.44" stroke="#444" stroke-width="0.85" />
<line x1="311.05" y1="489.44" x2="318.25" y2="489.44" stroke="#444" stroke-width="0.85" />
<rect x="307.7" y="492.1" width="13.9" height="12.9" fill="url(#hd)" stroke="#444" stroke-width="0.8"/>
<line x1="314.65" y1="505" x2="314.65" y2="507.6" stroke="#222" stroke-width="0.9" />
<text transform="translate(316.85,516.8) rotate(-45)" font-size="8.3" font-weight="bold" text-anchor="end" fill="#111" stroke="#111" stroke-width="0.2">0</text>
<line x1="336.6" y1="470.42" x2="336.6" y2="461.77" stroke="#444" stroke-width="0.85" />
<line x1="333" y1="461.77" x2="340.2" y2="461.77" stroke="#444" stroke-width="0.85" />
<rect x="329.6" y="470.82" width="14" height="34.18" fill="url(#hd)" stroke="#444" stroke-width="0.8"/>
<line x1="336.6" y1="505" x2="336.6" y2="507.6" stroke="#222" stroke-width="0.9" />
<text transform="translate(338.8,516.8) rotate(-45)" font-size="8.3" font-weight="bold" text-anchor="end" fill="#111" stroke="#111" stroke-width="0.2">5</text>
<line x1="358.45" y1="433.18" x2="358.45" y2="427.86" stroke="#444" stroke-width="0.85" />
<line x1="354.85" y1="427.86" x2="362.05" y2="427.86" stroke="#444" stroke-width="0.85" />
<rect x="351.5" y="433.58" width="13.9" height="71.42" fill="url(#hd)" stroke="#444" stroke-width="0.8"/>
<line x1="358.45" y1="505" x2="358.45" y2="507.6" stroke="#222" stroke-width="0.9" />
<text transform="translate(360.65,516.8) rotate(-45)" font-size="8.3" font-weight="bold" text-anchor="end" fill="#111" stroke="#111" stroke-width="0.2">20</text>
<line x1="394.4" y1="491.7" x2="394.4" y2="490.37" stroke="#444" stroke-width="0.85" />
<line x1="390.8" y1="490.37" x2="398" y2="490.37" stroke="#444" stroke-width="0.85" />
<rect x="387.4" y="492.1" width="14" height="12.9" fill="url(#hl)" stroke="#444" stroke-width="0.8"/>
<line x1="394.4" y1="505" x2="394.4" y2="507.6" stroke="#222" stroke-width="0.9" />
<text transform="translate(396.6,516.8) rotate(-45)" font-size="8.3" font-weight="bold" text-anchor="end" fill="#111" stroke="#111" stroke-width="0.2">0</text>
<line x1="416.65" y1="479.06" x2="416.65" y2="477.07" stroke="#444" stroke-width="0.85" />
<line x1="413.05" y1="477.07" x2="420.25" y2="477.07" stroke="#444" stroke-width="0.85" />
<rect x="409.7" y="479.46" width="13.9" height="25.54" fill="url(#hl)" stroke="#444" stroke-width="0.8"/>
<line x1="416.65" y1="505" x2="416.65" y2="507.6" stroke="#222" stroke-width="0.9" />
<text transform="translate(418.85,516.8) rotate(-45)" font-size="8.3" font-weight="bold" text-anchor="end" fill="#111" stroke="#111" stroke-width="0.2">5</text>
<line x1="438.05" y1="455.79" x2="438.05" y2="447.14" stroke="#444" stroke-width="0.85" />
<line x1="434.45" y1="447.14" x2="441.65" y2="447.14" stroke="#444" stroke-width="0.85" />
<rect x="431" y="456.19" width="14.1" height="48.81" fill="url(#hl)" stroke="#444" stroke-width="0.8"/>
<line x1="438.05" y1="505" x2="438.05" y2="507.6" stroke="#222" stroke-width="0.9" />
<text transform="translate(440.25,516.8) rotate(-45)" font-size="8.3" font-weight="bold" text-anchor="end" fill="#111" stroke="#111" stroke-width="0.2">20</text>
<text x="337.4" y="533" font-size="8.5" font-weight="normal" text-anchor="middle" fill="#222"  stroke="#222" stroke-width="0.18">M2-10B4</text>
<text x="414.3" y="533" font-size="8.5" font-weight="normal" text-anchor="middle" fill="#222"  stroke="#222" stroke-width="0.18">prim. mouse stroma</text>
<text x="376.5" y="546.8" font-size="8.8" font-weight="bold" text-anchor="middle" fill="#000"  stroke="#000" stroke-width="0.12">NVP-LDE225 [μM]</text>
</svg>
</body></html>
